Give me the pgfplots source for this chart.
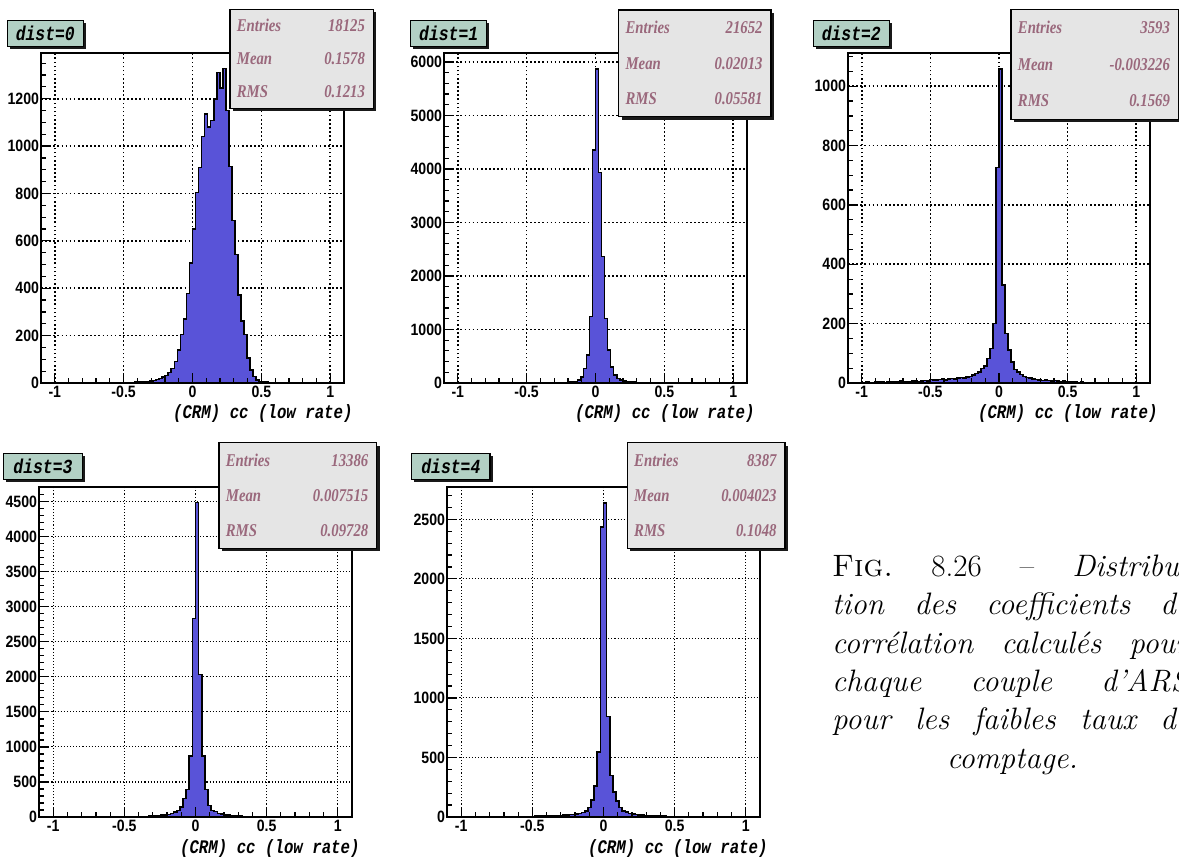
\documentclass[border=0pt]{standalone}
\usepackage{pgfplots}
\pgfplotsset{compat=1.18}
\usepackage{pgfplotstable}
\usepackage{fontspec}
\newfontfamily\rootsans[FakeStretch=0.86]{Liberation Sans}
\newfontfamily\rootmono[FakeStretch=0.82]{Liberation Mono}
\newfontfamily\rootserif[FakeStretch=0.82]{Liberation Serif}
\definecolor{histblue}{RGB}{89,83,216}
\definecolor{titlegreen}{RGB}{178,208,196}
\definecolor{statgray}{RGB}{229,229,229}
\definecolor{stattext}{RGB}{154,104,124}

\pgfplotstableread{
x y
-0.484 1
-0.462 2
-0.44 2
-0.418 3
-0.396 3
-0.374 4
-0.352 5
-0.33 6
-0.308 8
-0.286 10
-0.264 14
-0.242 19
-0.22 25
-0.198 32
-0.176 44
-0.154 62
-0.132 90
-0.11 139
-0.088 205
-0.066 270
-0.044 378
-0.022 507
0 651
0.022 804
0.044 910
0.066 1041
0.088 1136
0.11 1080
0.132 1108
0.154 1200
0.176 1310
0.198 1245
0.22 1327
0.242 1150
0.264 913
0.286 686
0.308 542
0.33 372
0.352 262
0.374 205
0.396 105
0.418 55
0.44 27
0.462 13
0.484 7
0.506 4
0.528 3
0.55 2
0.572 1
0.594 1
0.616 0
}\histA

\pgfplotstableread{
x y
-0.44 1
-0.418 2
-0.396 2
-0.374 3
-0.352 3
-0.33 4
-0.308 5
-0.286 6
-0.264 7
-0.242 8
-0.22 10
-0.198 15
-0.176 20
-0.154 30
-0.132 52
-0.11 113
-0.088 270
-0.066 520
-0.044 1240
-0.022 4352
0 5873
0.022 3932
0.044 2367
0.066 1208
0.088 614
0.11 300
0.132 144
0.154 81
0.176 52
0.198 38
0.22 28
0.242 21
0.264 16
0.286 12
0.308 10
0.33 8
0.352 6
0.374 5
0.396 4
0.418 3
0.44 3
0.462 2
0.484 2
0.506 1
0.528 1
0.55 0
}\histB

\pgfplotstableread{
x y
-1.1 0
-1.078 1
-1.056 1
-1.034 2
-1.012 1
-0.99 2
-0.968 3
-0.946 2
-0.924 2
-0.902 3
-0.88 4
-0.858 3
-0.836 2
-0.814 3
-0.792 4
-0.77 3
-0.748 5
-0.726 6
-0.704 4
-0.682 5
-0.66 4
-0.638 6
-0.616 7
-0.594 5
-0.572 6
-0.55 8
-0.528 7
-0.506 12
-0.484 11
-0.462 10
-0.44 12
-0.418 13
-0.396 11
-0.374 14
-0.352 15
-0.33 13
-0.308 16
-0.286 18
-0.264 17
-0.242 20
-0.22 22
-0.198 26
-0.176 32
-0.154 38
-0.132 49
-0.11 58
-0.088 82
-0.066 116
-0.044 201
-0.022 726
0 1059
0.022 331
0.044 167
0.066 111
0.088 71
0.11 45
0.132 37
0.154 28
0.176 22
0.198 18
0.22 16
0.242 14
0.264 12
0.286 11
0.308 9
0.33 10
0.352 8
0.374 7
0.396 8
0.418 6
0.44 5
0.462 6
0.484 4
0.506 5
0.528 3
0.55 4
0.572 2
0.594 3
0.616 2
0.638 1
0.66 2
0.682 1
0.704 1
0.726 2
0.748 1
0.77 0
0.792 1
0.814 1
0.836 0
0.858 1
0.88 0
0.902 1
0.924 0
0.946 0
}\histC

\pgfplotstableread{
x y
-0.99 1
-0.968 1
-0.946 2
-0.924 1
-0.902 2
-0.88 1
-0.858 2
-0.836 2
-0.814 1
-0.792 2
-0.77 2
-0.748 3
-0.726 2
-0.704 2
-0.682 3
-0.66 2
-0.638 3
-0.616 3
-0.594 2
-0.572 3
-0.55 3
-0.528 3
-0.506 4
-0.484 4
-0.462 4
-0.44 5
-0.418 6
-0.396 7
-0.374 8
-0.352 9
-0.33 11
-0.308 13
-0.286 18
-0.264 22
-0.242 26
-0.22 30
-0.198 36
-0.176 48
-0.154 71
-0.132 95
-0.11 143
-0.088 262
-0.066 395
-0.044 871
-0.022 2831
0 4486
0.022 2031
0.044 871
0.066 395
0.088 166
0.11 95
0.132 81
0.154 50
0.176 40
0.198 32
0.22 26
0.242 21
0.264 17
0.286 14
0.308 11
0.33 9
0.352 7
0.374 6
0.396 5
0.418 4
0.44 3
0.462 3
0.484 2
0.506 3
0.528 2
0.55 2
0.572 1
0.594 2
0.616 1
0.638 2
0.66 1
0.682 1
0.704 2
0.726 1
0.748 1
0.77 1
0.792 0
0.814 1
0.836 1
0.858 0
0.88 1
0.902 0
}\histD

\pgfplotstableread{
x y
-0.99 1
-0.968 0
-0.946 1
-0.924 1
-0.902 0
-0.88 1
-0.858 1
-0.836 2
-0.814 1
-0.792 1
-0.77 2
-0.748 1
-0.726 2
-0.704 2
-0.682 1
-0.66 2
-0.638 3
-0.616 2
-0.594 3
-0.572 3
-0.55 4
-0.528 5
-0.506 5
-0.484 6
-0.462 7
-0.44 8
-0.418 9
-0.396 10
-0.374 11
-0.352 12
-0.33 13
-0.308 14
-0.286 16
-0.264 18
-0.242 20
-0.22 22
-0.198 24
-0.176 31
-0.154 37
-0.132 51
-0.11 79
-0.088 145
-0.066 261
-0.044 546
-0.022 2435
0 2640
0.022 845
0.044 350
0.066 210
0.088 135
0.11 80
0.132 52
0.154 40
0.176 30
0.198 24
0.22 20
0.242 17
0.264 15
0.286 13
0.308 11
0.33 10
0.352 9
0.374 8
0.396 7
0.418 6
0.44 5
0.462 5
0.484 4
0.506 4
0.528 3
0.55 3
0.572 2
0.594 2
0.616 3
0.638 1
0.66 2
0.682 1
0.704 1
0.726 2
0.748 1
0.77 1
0.792 0
0.814 1
0.836 0
0.858 1
0.88 0
}\histE

\tikzset{
  gridA/.style={black, line width=0.8pt, dash pattern=on 0.8pt off 1.25pt},
  gridB/.style={black, line width=0.55pt, dash pattern=on 0.55pt off 1.0pt},
  stat/.style={font=\rootserif\bfseries\itshape\fontsize{9}{10}\selectfont, text=stattext, inner sep=0pt},
  ttl/.style={font=\rootmono\bfseries\itshape\fontsize{10}{11}\selectfont, inner sep=0pt},
  xlab/.style={font=\rootmono\bfseries\itshape\fontsize{9.6}{11}\selectfont, inner sep=0pt},
  captxt/.style={font=\fontsize{15.5}{19}\selectfont, inner sep=0pt},
}

\pgfplotsset{
  rootaxis/.style={
    scale only axis, anchor=south west,
    xmin=-1.1, xmax=1.1, ymin=0,
    xtick={-1,-0.5,0,0.5,1},
    minor xtick={-0.9,-0.8,-0.7,-0.6,-0.4,-0.3,-0.2,-0.1,0.1,0.2,0.3,0.4,0.6,0.7,0.8,0.9},
    tickpos=left, tick align=inside,
    major tick length=5pt, minor tick length=2.5pt,
    tick style={black, line width=0.6pt},
    axis line style={line width=1pt},
    axis on top,
    ticklabel style={font=\rootsans\bfseries\fontsize{8.2}{9}\selectfont},
    /pgf/number format/assume math mode=true,
    /pgf/number format/1000 sep={},
    scaled y ticks=false,
    xticklabel style={inner sep=1.5pt},
    yticklabel style={inner sep=0.8pt},
  },
  histo/.style={const plot, fill=histblue, draw=black, line width=0.8pt},
}

\newcommand{\gridv}[2]{\pgfplotsinvokeforeach{-1,-0.5,0,0.5,1}{\draw[#2] (axis cs:##1,0) -- (axis cs:##1,#1);}}
\newcommand{\gridh}[2]{\pgfplotsinvokeforeach{#1}{\draw[#2] (axis cs:-1.1,##1) -- (axis cs:1.1,##1);}}

\newcommand{\statbox}[7]{%
  \fill[black!90] ({#1+3},{#2+3}) rectangle ({#3+3},{#4+3});
  \filldraw[fill=statgray, draw=black, line width=0.7pt] (#1,#2) rectangle (#3,#4);
  \node[stat, anchor=west] at ({#1+6.5},{#2+(#4-#2)/6}) {Entries};
  \node[stat, anchor=east] at ({#3-8},{#2+(#4-#2)/6}) {#5};
  \node[stat, anchor=west] at ({#1+6.5},{#2+(#4-#2)/2}) {Mean};
  \node[stat, anchor=east] at ({#3-8},{#2+(#4-#2)/2}) {#6};
  \node[stat, anchor=west] at ({#1+6.5},{#2+5*(#4-#2)/6}) {RMS};
  \node[stat, anchor=east] at ({#3-8},{#2+5*(#4-#2)/6}) {#7};
}
\newcommand{\titlebox}[5]{%
  \fill[black!90] ({#1+2.5},{#2+2.5}) rectangle ({#3+2.5},{#4+2.5});
  \filldraw[fill=titlegreen, draw=black, line width=0.7pt] (#1,#2) rectangle (#3,#4);
  \node[ttl] at ({(#1+#3)/2},{(#2+#4)/2}) {#5};
}

\begin{document}
\begin{tikzpicture}

% ---------- dist=0
\begin{axis}[rootaxis, at={(20.5pt,239pt)}, width=151.5pt, height=165pt, ymax=1393,
  ytick={0,200,...,1200}, minor ytick={50,100,...,1350}]
\gridv{1393}{gridA}
\gridh{200,400,600,800,1000,1200}{gridA}
\addplot[histo] table[x=x,y=y] {\histA} \closedcycle;
\end{axis}

% ---------- dist=1
\begin{axis}[rootaxis, at={(222pt,239pt)}, width=151.5pt, height=165pt, ymax=6167,
  ytick={0,1000,...,6000}, minor ytick={200,400,...,6000}]
\gridv{6167}{gridA}
\gridh{1000,2000,3000,4000,5000,6000}{gridA}
\addplot[histo] table[x=x,y=y] {\histB} \closedcycle;
\end{axis}

% ---------- dist=2
\begin{axis}[rootaxis, at={(424pt,239pt)}, width=151pt, height=165pt, ymax=1112,
  ytick={0,200,...,1000}, minor ytick={50,100,...,1100}]
\gridv{1112}{gridA}
\gridh{200,400,600,800,1000}{gridA}
\addplot[histo] table[x=x,y=y] {\histC} \closedcycle;
\end{axis}

% ---------- dist=3
\begin{axis}[rootaxis, at={(19.5pt,22pt)}, width=156.5pt, height=165pt, ymax=4710,
  ytick={0,500,...,4500}, minor ytick={100,200,...,4700}]
\gridv{4710}{gridB}
\gridh{500,1000,1500,2000,2500,3000,3500,4000,4500}{gridB}
\addplot[histo] table[x=x,y=y] {\histD} \closedcycle;
\end{axis}

% ---------- dist=4
\begin{axis}[rootaxis, at={(223.5pt,22pt)}, width=156.5pt, height=165pt, ymax=2772,
  ytick={0,500,...,2500}, minor ytick={100,200,...,2700}]
\gridv{2772}{gridB}
\gridh{500,1000,1500,2000,2500}{gridB}
\addplot[histo] table[x=x,y=y] {\histE} \closedcycle;
\end{axis}

\begin{scope}[x=0.5pt,y=-0.5pt,yshift=430.5pt]
  \titlebox{7.3}{20.7}{83.3}{46.7}{dist=0}
  \titlebox{410.7}{20.7}{486.7}{46.7}{dist=1}
  \titlebox{813.3}{20.7}{889.3}{46.7}{dist=2}
  \titlebox{3.3}{453.3}{82.7}{479.3}{dist=3}
  \titlebox{411.7}{453.3}{490}{479.3}{dist=4}

  \statbox{230}{9.3}{373.3}{108.3}{18125}{0.1578}{0.1213}
  \statbox{618.7}{10}{771}{116.7}{21652}{0.02013}{0.05581}
  \statbox{1011}{9.3}{1178.3}{119.3}{3593}{-0.003226}{0.1569}
  \statbox{219}{442.7}{376.7}{548.3}{13386}{0.007515}{0.09728}
  \statbox{627.3}{442.7}{785}{548.3}{8387}{0.004023}{0.1048}

  \node[xlab, anchor=base east] at (353,419) {(CRM) cc (low rate)};
  \node[xlab, anchor=base east] at (755,419) {(CRM) cc (low rate)};
  \node[xlab, anchor=base east] at (1158,419) {(CRM) cc (low rate)};
  \node[xlab, anchor=base east] at (360,854) {(CRM) cc (low rate)};
  \node[xlab, anchor=base east] at (768,854) {(CRM) cc (low rate)};

  \begin{scope}
    \clip (0,0) rectangle (1179,861);
    \node[captxt, anchor=base west] at (831.7,576.7) {\makebox[179pt][s]{\textsc{Fig.}\ 8.26 -- \textit{Distribu-}}};
    \node[captxt, anchor=base west] at (831.7,615) {\makebox[179pt][s]{\textit{tion des coefficients de}}};
    \node[captxt, anchor=base west] at (831.7,653.3) {\makebox[179pt][s]{\textit{corrélation calculés pour}}};
    \node[captxt, anchor=base west] at (831.7,691.7) {\makebox[179pt][s]{\textit{chaque couple d'ARS}}};
    \node[captxt, anchor=base west] at (831.7,730) {\makebox[179pt][s]{\textit{pour les faibles taux de}}};
    \node[captxt, anchor=base] at (1012.5,768.3) {\textit{comptage.}};
  \end{scope}
\end{scope}

\pgfresetboundingbox
\path[use as bounding box] (0,0) rectangle (589.5pt,430.5pt);
\end{tikzpicture}
\end{document}
